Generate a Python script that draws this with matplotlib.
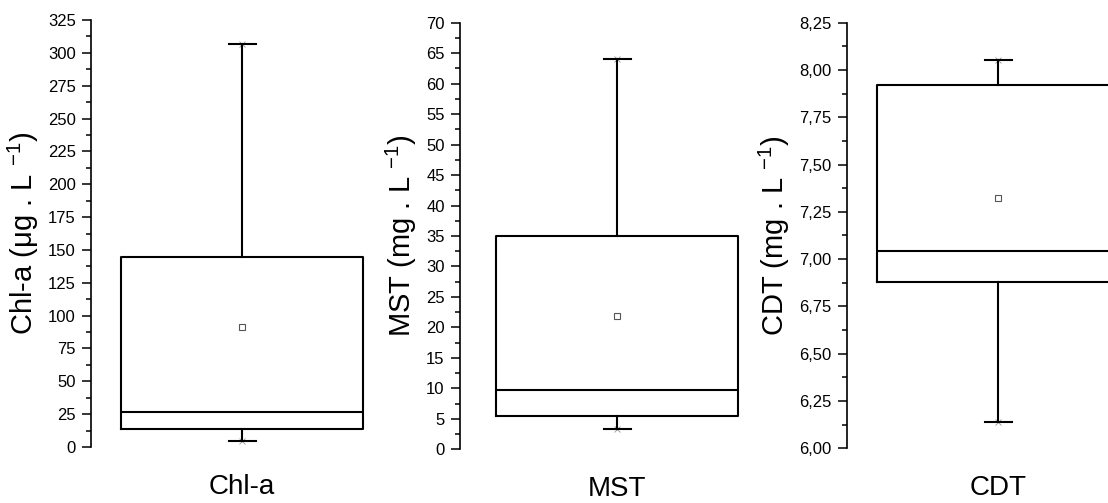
import matplotlib
matplotlib.use("Agg")
import matplotlib.pyplot as plt
from matplotlib.ticker import MultipleLocator, FuncFormatter

plt.rcParams["font.family"] = ["Liberation Sans", "DejaVu Sans"]
plt.rcParams["mathtext.fontset"] = "custom"
plt.rcParams["mathtext.rm"] = "Liberation Sans"
plt.rcParams["mathtext.it"] = "Liberation Sans:italic"

# box statistics
names = ["Chl-a", "MST", "CDT"]
ylabels = [r"Chl-a (μg . L $^{\mathrm{-1}}$)",
           r"MST (mg . L $^{\mathrm{-1}}$)",
           r"CDT (mg . L $^{\mathrm{-1}}$)"]
whislo = [4.8, 3.4, 6.14]
q1 = [13.7, 5.47, 6.88]
med = [26.4, 9.73, 7.044]
q3 = [144.4, 35.05, 7.92]
whishi = [306.5, 64.0, 8.052]
means = [91.0, 21.9, 7.325]
ylims = [(0, 325), (0, 70), (6.0, 8.25)]
major_steps = [25, 5, 0.25]

# layout in pixels (figure 1108x503)
W, H = 1108, 503
spine_x = [91, 460, 847]
center_x = [242, 617, 998]
y_top = [20, 22.7, 22.7]
y_bot = [447, 449.3, 448.3]
box_px = 242
cap_px = 27

fig = plt.figure(figsize=(W / 100, H / 100), dpi=100)

for i in range(3):
    ax_w = 2 * (center_x[i] - spine_x[i])
    ax = fig.add_axes([spine_x[i] / W, (H - y_bot[i]) / H,
                       ax_w / W, (y_bot[i] - y_top[i]) / H])
    stats = [{"med": med[i], "q1": q1[i], "q3": q3[i],
              "whislo": whislo[i], "whishi": whishi[i],
              "mean": means[i], "fliers": []}]
    ax.bxp(stats, positions=[1], widths=box_px / ax_w,
           capwidths=cap_px / ax_w, showmeans=True, patch_artist=False,
           boxprops=dict(color="black", linewidth=1.5),
           medianprops=dict(color="black", linewidth=1.5),
           whiskerprops=dict(color="black", linewidth=1.5),
           capprops=dict(color="black", linewidth=1.5),
           meanprops=dict(marker="s", markersize=4, markerfacecolor="white",
                          markeredgecolor="#555555", markeredgewidth=0.8))
    ax.plot([1, 1], [whislo[i], whishi[i]], linestyle="none", marker="x",
            markersize=5, color="#999999", markeredgewidth=0.6, zorder=1)
    ax.set_xlim(0.5, 1.5)
    ax.set_ylim(*ylims[i])
    ax.yaxis.set_major_locator(MultipleLocator(major_steps[i]))
    ax.yaxis.set_minor_locator(MultipleLocator(major_steps[i] / 2))
    if i == 2:
        ax.yaxis.set_major_formatter(
            FuncFormatter(lambda v, p: f"{v:.2f}".replace(".", ",")))
    else:
        ax.yaxis.set_major_formatter(FuncFormatter(lambda v, p: f"{v:.0f}"))
    for s in ["top", "right", "bottom"]:
        ax.spines[s].set_visible(False)
    ax.spines["left"].set_linewidth(1.2)
    ax.tick_params(axis="y", which="major", length=6.5, width=1.1,
                   labelsize=12, pad=4.5, colors="black")
    ax.tick_params(axis="y", which="minor", length=3.6, width=1.1)
    ax.set_xticks([])
    ax.set_xlabel(names[i], fontsize=20, labelpad=19.5)
    ax.set_ylabel(ylabels[i], fontsize=21, labelpad=5)
    ax.patch.set_alpha(0)

plt.savefig("out.png", dpi=100)
